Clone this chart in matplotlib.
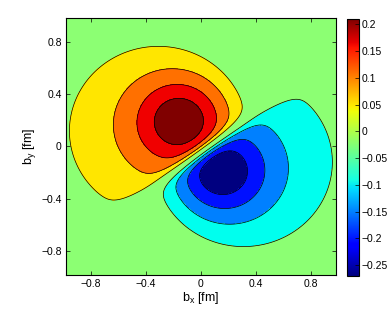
import numpy as np
import matplotlib.pyplot as plt
from matplotlib import cm, colors as mcolors
from matplotlib.ticker import FuncFormatter

plt.rcParams['font.family'] = ['Liberation Sans', 'DejaVu Sans']
plt.rcParams['mathtext.fontset'] = 'custom'
plt.rcParams['mathtext.rm'] = 'Liberation Sans'
plt.rcParams['mathtext.it'] = 'Liberation Sans'
plt.rcParams['mathtext.default'] = 'regular'

# values
peak_value = 0.25            # height of each lobe
lobe_center = (-0.155, 0.19) # maximum of the positive lobe [fm]
lobe_width = 0.24            # radial scale of a lobe [fm]
lobe_tail = 0.455            # shape of the fall-off
node_angle = 126.5           # normal of the node line between the lobes [deg]
node_shift = 0.04            # node line lies a bit on the negative side [fm]
node_width = 0.06            # how sharp the sign change is [fm]
drift = 0.8                  # outer contours drift off the lobe centre ...
drift_angle = 205.0          # ... in this direction [deg]
b_edge = 0.98                # plotted range of b_x and b_y [fm]
levels = [-0.2, -0.15, -0.1, -0.05, 0.05, 0.1, 0.15, 0.2]
fill_colors = ['#000080', '#0010ff', '#0080ff', '#00ffee', '#8cff73',
               '#ffe600', '#ff7000', '#f00000', '#800000']
ticks = [-0.8, -0.4, 0, 0.4, 0.8]
cbar_ticks = [-0.25, -0.2, -0.15, -0.1, -0.05, 0, 0.05, 0.1, 0.15, 0.2]
cbar_range = (-0.27, 0.21)


def lobe(x, y):
    # radius of the drifting contour circle that passes through (x, y)
    dx, dy = x - lobe_center[0], y - lobe_center[1]
    ex, ey = np.cos(np.radians(drift_angle)), np.sin(np.radians(drift_angle))
    R = np.hypot(dx, dy)
    for _ in range(60):
        sh = drift * R ** 3 / (1 + R ** 3)
        R = 0.5 * (R + np.hypot(dx - sh * ex, dy - sh * ey))
    q = (R / lobe_width) ** 2
    return peak_value * np.exp(1 - (1 + q) ** lobe_tail)


b = np.linspace(-b_edge, b_edge, 500)
bx, by = np.meshgrid(b, b)
nrm = np.radians(node_angle)
u = bx * np.cos(nrm) + by * np.sin(nrm) + node_shift
step = 0.5 * (1 + np.tanh(u / node_width))
rho = lobe(bx, by) * step - lobe(-bx, -by) * (1 - step)

fig = plt.figure(figsize=(3.92, 3.16), dpi=100)
ax = fig.add_axes([0.168, 0.130, 0.689, 0.813])

bounds = [-1.0] + levels + [1.0]
ax.contourf(bx, by, rho, bounds, colors=fill_colors)
ax.contour(bx, by, rho, levels, colors='k', linewidths=0.5, linestyles='solid')

fmt = FuncFormatter(lambda v, p: f'{v:g}'.replace('-', '\u2212'))
ax.set_xlim(-b_edge, b_edge)
ax.set_ylim(-b_edge, b_edge)
ax.set_xticks(ticks)
ax.set_yticks(ticks)
ax.xaxis.set_major_formatter(fmt)
ax.yaxis.set_major_formatter(fmt)
ax.tick_params(direction='in', top=True, right=True, length=3, width=0.5,
               labelsize=7.5, pad=3)
for s in ax.spines.values():
    s.set_linewidth(0.8)
ax.set_xlabel(r'$b_x$ [fm]', fontsize=9, labelpad=1)
ax.set_ylabel(r'$b_y$ [fm]', fontsize=9, labelpad=2)

cax = fig.add_axes([0.884, 0.127, 0.032, 0.813])
sm = cm.ScalarMappable(norm=mcolors.Normalize(*cbar_range), cmap='jet')
cb = fig.colorbar(sm, cax=cax, ticks=cbar_ticks)
cb.ax.yaxis.set_major_formatter(fmt)
cb.ax.tick_params(direction='in', length=3, width=0.5, labelsize=7.5, pad=2)
cb.outline.set_linewidth(0.8)

plt.savefig('out.png', dpi=100)
